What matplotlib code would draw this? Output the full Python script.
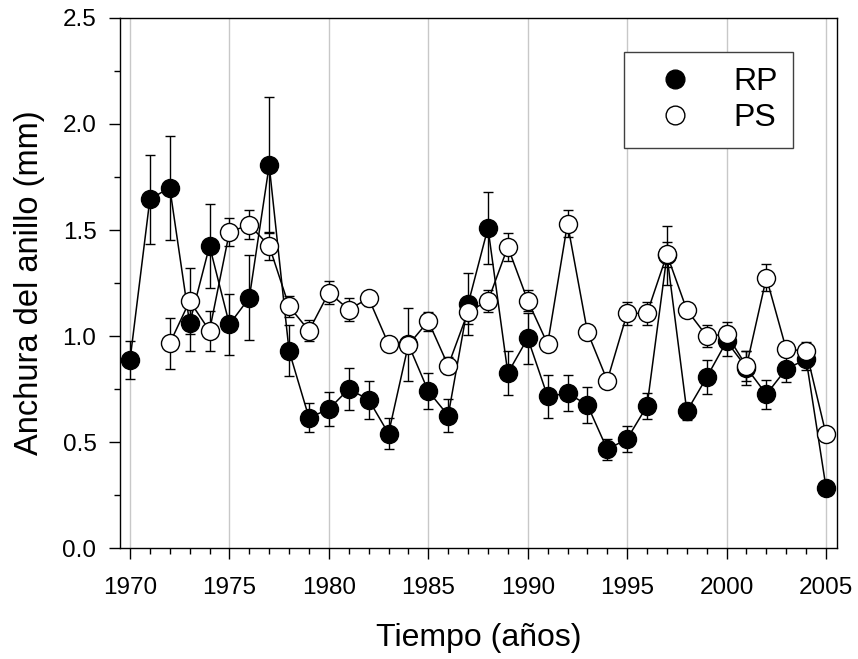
import matplotlib
matplotlib.use("Agg")
import matplotlib.pyplot as plt
from matplotlib.lines import Line2D
from matplotlib.ticker import MultipleLocator

plt.rcParams["font.family"] = ["Liberation Sans", "DejaVu Sans"]

# Anchura media del anillo por año (mm) y su error
years_rp = list(range(1970, 2006))
rp = [0.885, 1.645, 1.70, 1.06, 1.425, 1.055, 1.18, 1.805, 0.93, 0.615,
      0.655, 0.75, 0.70, 0.54, 0.96, 0.74, 0.625, 1.15, 1.51, 0.825,
      0.99, 0.715, 0.73, 0.675, 0.465, 0.515, 0.67, 1.38, 0.645, 0.805,
      0.975, 0.85, 0.725, 0.845, 0.89, 0.285]
rp_err = [0.09, 0.21, 0.245, 0.13, 0.2, 0.145, 0.2, 0.32, 0.12, 0.07,
          0.08, 0.1, 0.09, 0.075, 0.17, 0.085, 0.08, 0.145, 0.17, 0.105,
          0.12, 0.1, 0.085, 0.085, 0.05, 0.06, 0.063, 0.14, 0.04, 0.08,
          0.07, 0.08, 0.067, 0.06, 0.05, 0.0]

years_ps = list(range(1972, 2006))
ps = [0.965, 1.165, 1.025, 1.49, 1.525, 1.425, 1.14, 1.025, 1.205, 1.125,
      1.178, 0.962, 0.958, 1.07, 0.86, 1.115, 1.165, 1.42, 1.167, 0.962,
      1.53, 1.02, 0.79, 1.107, 1.107, 1.385, 1.123, 1.0, 1.008, 0.858,
      1.275, 0.937, 0.93, 0.536]
ps_err = [0.12, 0.155, 0.095, 0.065, 0.068, 0.065, 0.05, 0.05, 0.053, 0.053,
          0.035, 0.03, 0.03, 0.045, 0.04, 0.06, 0.05, 0.065, 0.05, 0.03,
          0.065, 0.03, 0.03, 0.053, 0.055, 0.06, 0.03, 0.05, 0.06, 0.07,
          0.065, 0.03, 0.04, 0.0]

fig = plt.figure(figsize=(8.58, 6.59), dpi=100)
ax = fig.add_axes([0.1399, 0.1684, 0.8356, 0.8043])

common = dict(color="black", lw=1.1, ms=13, mec="black", mew=1.0,
              ecolor="black", elinewidth=1.0, capsize=3.6, capthick=1.0)
ax.errorbar(years_rp, rp, yerr=rp_err, fmt="-o", mfc="black", zorder=3, **common)
ax.errorbar(years_ps, ps, yerr=ps_err, fmt="-o", mfc="white", zorder=4, **common)

ax.set_xlim(1969.5, 2005.55)
ax.set_ylim(0, 2.5)
ax.xaxis.set_major_locator(MultipleLocator(5))
ax.xaxis.set_minor_locator(MultipleLocator(1))
ax.yaxis.set_major_locator(MultipleLocator(0.5))
ax.yaxis.set_minor_locator(MultipleLocator(0.25))
ax.yaxis.set_major_formatter(plt.FuncFormatter(lambda v, _: f"{v:.1f}"))
ax.tick_params(which="major", direction="out", length=8, width=1, labelsize=17.5)
ax.tick_params(axis="x", which="major", pad=13)
ax.tick_params(axis="y", which="major", pad=9)
ax.tick_params(which="minor", direction="out", length=4.3, width=1)
ax.grid(axis="x", which="major", color="#c8c8c8", lw=1, zorder=0)
ax.set_axisbelow(True)
for sp in ax.spines.values():
    sp.set_linewidth(1.0)

ax.set_xlabel("Tiempo (años)", fontsize=23)
ax.set_ylabel("Anchura del anillo (mm)", fontsize=23.5)
# posiciones fijas de las líneas base (px de la figura de referencia)
ax.xaxis.label.set_va("baseline")
ax.xaxis.set_label_coords(0.5, (548 - 646) / 530)
ax.yaxis.label.set_va("baseline")
ax.yaxis.set_label_coords((38 - 120) / 717, 0.5)

handles = [
    Line2D([], [], ls="none", marker="o", ms=13.5, mfc="black", mec="black"),
    Line2D([], [], ls="none", marker="o", ms=13.5, mfc="white", mec="black"),
]
leg = ax.legend(handles, ["RP", "PS"], loc="upper right",
                bbox_to_anchor=(0.9386, 0.9358), borderaxespad=0,
                fontsize=23, fancybox=False, framealpha=1,
                edgecolor="#404040", handlelength=2.26, handletextpad=0.69,
                borderpad=0.47, labelspacing=0.2)
leg.get_frame().set_linewidth(1.0)

fig.savefig("out.png", dpi=100)
